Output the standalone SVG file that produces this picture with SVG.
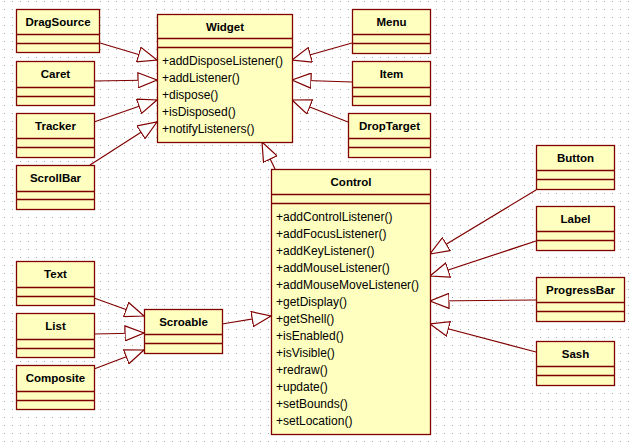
<svg xmlns="http://www.w3.org/2000/svg" width="636" height="448" viewBox="0 0 636 448">
<defs>
<pattern id="grid" x="4" y="1" width="8" height="8" patternUnits="userSpaceOnUse">
<rect x="0" y="0" width="1" height="1" fill="#a8a8a8"/>
</pattern>
<marker id="gen" viewBox="0 0 20 16" refX="19.5" refY="8" markerWidth="20" markerHeight="16" markerUnits="userSpaceOnUse" orient="auto">
<path d="M0.5,0.5 L19.5,8 L0.5,15.5 Z" fill="#ffffff" stroke="#800000" stroke-width="1.2"/>
</marker>
</defs>
<style>
.box{fill:#ffffc0;stroke:#800000;stroke-width:1.3}
.sep{stroke:#800000;stroke-width:1.3}
.name{font-family:"Liberation Sans",Arial,sans-serif;font-weight:bold;font-size:11.5px;fill:#000;text-anchor:middle}
.op{font-family:"Liberation Sans",Arial,sans-serif;font-size:12px;fill:#000}
.conn line{stroke:#800000;stroke-width:1.2;fill:none;marker-end:url(#gen)}
</style>
<rect width="636" height="448" fill="#ffffff"/>
<rect width="636" height="448" fill="url(#grid)"/>

<g id="connectors" class="conn">
<line x1="100" y1="43" x2="157" y2="60"/>
<line x1="94" y1="81" x2="157" y2="80"/>
<line x1="94" y1="122" x2="157" y2="100"/>
<line x1="90" y1="165" x2="157" y2="122"/>
<line x1="352" y1="43" x2="292" y2="60"/>
<line x1="352" y1="82" x2="292" y2="80"/>
<line x1="348" y1="122" x2="292" y2="100"/>
<line x1="275" y1="169" x2="262" y2="142"/>
<line x1="536" y1="190" x2="430" y2="254"/>
<line x1="536" y1="241" x2="430" y2="276"/>
<line x1="536" y1="300" x2="430" y2="301"/>
<line x1="536" y1="352" x2="430" y2="324"/>
<line x1="222" y1="324" x2="271" y2="316"/>
<line x1="94" y1="298" x2="144" y2="316"/>
<line x1="94" y1="334" x2="144" y2="333"/>
<line x1="94" y1="369" x2="144" y2="350"/>
</g>

<g id="DragSource">
<rect class="box" x="16.5" y="9.5" width="83" height="43"/>
<line class="sep" x1="16.5" y1="34.5" x2="99.5" y2="34.5"/>
<line class="sep" x1="16.5" y1="43.5" x2="99.5" y2="43.5"/>
<text class="name" x="58" y="26">DragSource</text>
</g>
<g id="Caret">
<rect class="box" x="16.5" y="61.5" width="78" height="44"/>
<line class="sep" x1="16.5" y1="87.5" x2="94.5" y2="87.5"/>
<line class="sep" x1="16.5" y1="96.5" x2="94.5" y2="96.5"/>
<text class="name" x="55.5" y="78">Caret</text>
</g>
<g id="Tracker">
<rect class="box" x="16.5" y="113.5" width="78" height="44"/>
<line class="sep" x1="16.5" y1="138.5" x2="94.5" y2="138.5"/>
<line class="sep" x1="16.5" y1="147.5" x2="94.5" y2="147.5"/>
<text class="name" x="55.5" y="130">Tracker</text>
</g>
<g id="ScrollBar">
<rect class="box" x="16.5" y="165.5" width="78" height="44"/>
<line class="sep" x1="16.5" y1="191.5" x2="94.5" y2="191.5"/>
<line class="sep" x1="16.5" y1="199.5" x2="94.5" y2="199.5"/>
<text class="name" x="55.5" y="182">ScrollBar</text>
</g>
<g id="Text">
<rect class="box" x="16.5" y="261.5" width="78" height="44"/>
<line class="sep" x1="16.5" y1="287.5" x2="94.5" y2="287.5"/>
<line class="sep" x1="16.5" y1="296.5" x2="94.5" y2="296.5"/>
<text class="name" x="55.5" y="278">Text</text>
</g>
<g id="List">
<rect class="box" x="16.5" y="313.5" width="78" height="44"/>
<line class="sep" x1="16.5" y1="339.5" x2="94.5" y2="339.5"/>
<line class="sep" x1="16.5" y1="348.5" x2="94.5" y2="348.5"/>
<text class="name" x="55.5" y="330">List</text>
</g>
<g id="Composite">
<rect class="box" x="16.5" y="365.5" width="78" height="44"/>
<line class="sep" x1="16.5" y1="391.5" x2="94.5" y2="391.5"/>
<line class="sep" x1="16.5" y1="400.5" x2="94.5" y2="400.5"/>
<text class="name" x="55.5" y="382">Composite</text>
</g>
<g id="Scroable">
<rect class="box" x="144.5" y="309.5" width="78" height="44"/>
<line class="sep" x1="144.5" y1="334.5" x2="222.5" y2="334.5"/>
<line class="sep" x1="144.5" y1="343.5" x2="222.5" y2="343.5"/>
<text class="name" x="183.5" y="326">Scroable</text>
</g>
<g id="Widget">
<rect class="box" x="157.5" y="14.5" width="135" height="128"/>
<line class="sep" x1="157.5" y1="38.5" x2="292.5" y2="38.5"/>
<line class="sep" x1="157.5" y1="47.5" x2="292.5" y2="47.5"/>
<text class="name" x="225" y="30.5">Widget</text>
<text class="op" x="162" y="64.5">+addDisposeListener()</text>
<text class="op" x="162" y="81.5">+addListener()</text>
<text class="op" x="162" y="98.5">+dispose()</text>
<text class="op" x="162" y="115.5">+isDisposed()</text>
<text class="op" x="162" y="132.5">+notifyListeners()</text>
</g>
<g id="Menu">
<rect class="box" x="352.5" y="9.5" width="78" height="44"/>
<line class="sep" x1="352.5" y1="34.5" x2="430.5" y2="34.5"/>
<line class="sep" x1="352.5" y1="43.5" x2="430.5" y2="43.5"/>
<text class="name" x="391.5" y="26">Menu</text>
</g>
<g id="Item">
<rect class="box" x="352.5" y="61.5" width="78" height="44"/>
<line class="sep" x1="352.5" y1="87.5" x2="430.5" y2="87.5"/>
<line class="sep" x1="352.5" y1="96.5" x2="430.5" y2="96.5"/>
<text class="name" x="391.5" y="78">Item</text>
</g>
<g id="DropTarget">
<rect class="box" x="348.5" y="113.5" width="82" height="44"/>
<line class="sep" x1="348.5" y1="138.5" x2="430.5" y2="138.5"/>
<line class="sep" x1="348.5" y1="147.5" x2="430.5" y2="147.5"/>
<text class="name" x="389.5" y="130">DropTarget</text>
</g>
<g id="Control">
<rect class="box" x="271.5" y="169.5" width="159" height="265"/>
<line class="sep" x1="271.5" y1="194.5" x2="430.5" y2="194.5"/>
<line class="sep" x1="271.5" y1="203.5" x2="430.5" y2="203.5"/>
<text class="name" x="351" y="186">Control</text>
<text class="op" x="276" y="220.5">+addControlListener()</text>
<text class="op" x="276" y="237.5">+addFocusListener()</text>
<text class="op" x="276" y="254.5">+addKeyListener()</text>
<text class="op" x="276" y="271.5">+addMouseListener()</text>
<text class="op" x="276" y="288.5">+addMouseMoveListener()</text>
<text class="op" x="276" y="305.5">+getDisplay()</text>
<text class="op" x="276" y="322.5">+getShell()</text>
<text class="op" x="276" y="339.5">+isEnabled()</text>
<text class="op" x="276" y="356.5">+isVisible()</text>
<text class="op" x="276" y="373.5">+redraw()</text>
<text class="op" x="276" y="390.5">+update()</text>
<text class="op" x="276" y="407.5">+setBounds()</text>
<text class="op" x="276" y="424.5">+setLocation()</text>
</g>
<g id="Button">
<rect class="box" x="536.5" y="145.5" width="78" height="44"/>
<line class="sep" x1="536.5" y1="170.5" x2="614.5" y2="170.5"/>
<line class="sep" x1="536.5" y1="179.5" x2="614.5" y2="179.5"/>
<text class="name" x="575.5" y="162">Button</text>
</g>
<g id="Label">
<rect class="box" x="536.5" y="206.5" width="78" height="44"/>
<line class="sep" x1="536.5" y1="231.5" x2="614.5" y2="231.5"/>
<line class="sep" x1="536.5" y1="240.5" x2="614.5" y2="240.5"/>
<text class="name" x="575.5" y="223">Label</text>
</g>
<g id="ProgressBar">
<rect class="box" x="536.5" y="277.5" width="88" height="44"/>
<line class="sep" x1="536.5" y1="302.5" x2="624.5" y2="302.5"/>
<line class="sep" x1="536.5" y1="311.5" x2="624.5" y2="311.5"/>
<text class="name" x="580.5" y="294">ProgressBar</text>
</g>
<g id="Sash">
<rect class="box" x="536.5" y="341.5" width="78" height="44"/>
<line class="sep" x1="536.5" y1="366.5" x2="614.5" y2="366.5"/>
<line class="sep" x1="536.5" y1="375.5" x2="614.5" y2="375.5"/>
<text class="name" x="575.5" y="358">Sash</text>
</g>
</svg>
